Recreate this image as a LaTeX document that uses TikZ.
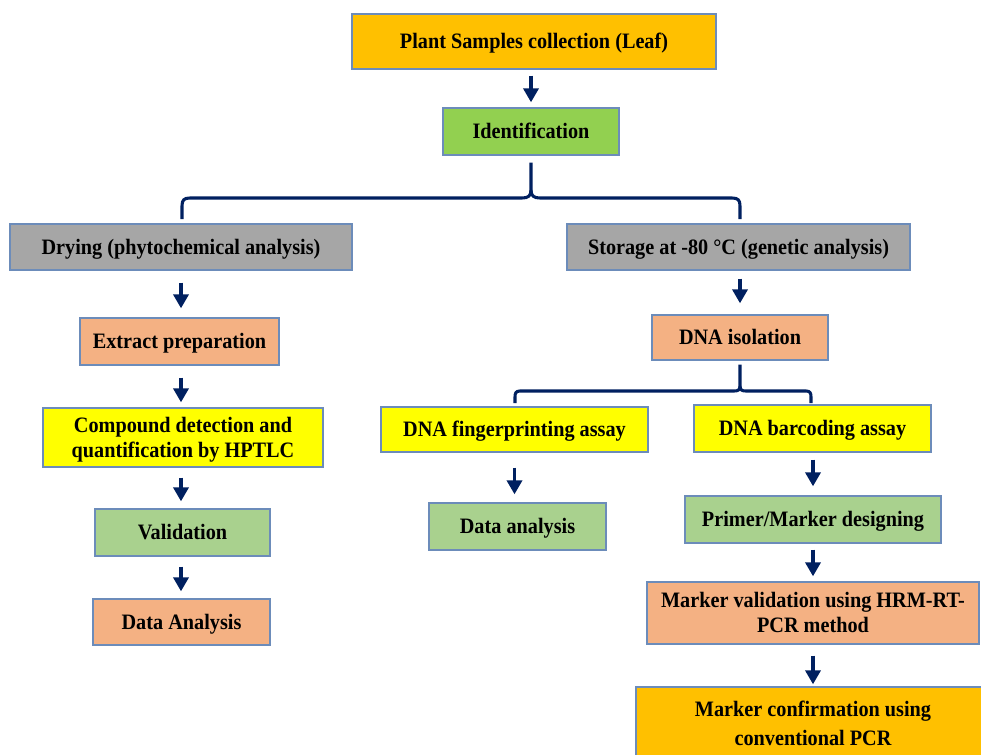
\documentclass[tikz,border=0pt]{standalone}
\usepackage{fontspec}
\setmainfont[FakeStretch=0.92]{Liberation Serif}
\usetikzlibrary{arrows.meta}
\definecolor{cOrange}{HTML}{FFC000}
\definecolor{cGreen}{HTML}{92D050}
\definecolor{cGray}{HTML}{A6A6A6}
\definecolor{cSalmon}{HTML}{F4B183}
\definecolor{cYellow}{HTML}{FFFF00}
\definecolor{cLGreen}{HTML}{A9D18E}
\definecolor{boxline}{RGB}{108,140,186}
\definecolor{navy}{RGB}{0,32,96}
\newcommand{\twolines}[2]{\begin{tabular}[b]{@{}c@{}}#1\\#2\end{tabular}}
\begin{document}
\begin{tikzpicture}[x=0.75pt,y=-0.75pt,
  box/.style={draw=boxline, line width=1pt, inner sep=0pt, align=center, text=black,
    font=\bfseries\fontsize{16.5}{18.75}\selectfont, text height=10.9pt, text depth=0pt},
  twoline/.style={text height=29.65pt},
  arr/.style={draw=navy, line width=2.6pt, -{Triangle[width=11.25pt,length=10.5pt]}},
  brace/.style={draw=navy, line width=2.3pt, line join=round}]
\useasboundingbox (0,0) rectangle (981,754);
\fill[white] (0,0) rectangle (981,754);
% nodes
\node[box, fill=cOrange, minimum width=273pt, minimum height=41.25pt] (plant) at (534,41.5) {Plant Samples collection (Leaf)};
\node[box, fill=cGreen, minimum width=132pt, minimum height=35.25pt] (ident) at (531,131.5) {Identification};
\node[box, fill=cGray, minimum width=256.5pt, minimum height=34.5pt] (drying) at (181,247) {Drying (phytochemical analysis)};
\node[box, fill=cGray, minimum width=257.25pt, minimum height=34.5pt] (storage) at (738.5,247) {Storage at -80 °C (genetic analysis)};
\node[box, fill=cSalmon, minimum width=149.25pt, minimum height=35.25pt] (extract) at (179.5,341.5) {Extract preparation};
\node[box, twoline, fill=cYellow, minimum width=210pt, minimum height=44.25pt] (compound) at (183,437.5) {\twolines{Compound detection and}{quantification by HPTLC}};
\node[box, fill=cLGreen, minimum width=131.25pt, minimum height=35.25pt] (valid) at (182.5,532.5) {Validation};
\node[box, fill=cSalmon, minimum width=132.75pt, minimum height=34.5pt] (dataA) at (181.5,622) {Data Analysis};
\node[box, fill=cSalmon, minimum width=132pt, minimum height=33.75pt] (dnaiso) at (740,337.5) {DNA isolation};
\node[box, fill=cYellow, minimum width=200.25pt, minimum height=33.75pt] (finger) at (514.5,429.5) {DNA fingerprinting assay};
\node[box, fill=cYellow, minimum width=177.75pt, minimum height=35.25pt] (barcode) at (812.5,428.5) {DNA barcoding assay};
\node[box, fill=cLGreen, minimum width=132.75pt, minimum height=35.25pt] (dataa) at (517.5,526.5) {Data analysis};
\node[box, fill=cLGreen, minimum width=192pt, minimum height=35.25pt] (primer) at (813,519.5) {Primer/Marker designing};
\node[box, twoline, fill=cSalmon, minimum width=249pt, minimum height=46.5pt] (markerv) at (813,613) {\twolines{Marker validation using HRM-RT-}{PCR method}};
\begin{scope}
\clip (0,0) rectangle (981,754);
\node[box, fill=cOrange, minimum width=265.5pt, minimum height=54.75pt,
  font=\bfseries\fontsize{16.5}{22}\selectfont, text height=32.9pt] (markerc) at (813,723.5) {\twolines{Marker confirmation using}{conventional PCR}};
\end{scope}
% arrows
\draw[arr, shorten <=4.5pt, shorten >=3.75pt] (plant.south -| ident.north) -- (ident.north);
\draw[arr, shorten <=9pt, shorten >=6.75pt] (drying.south) -- (drying.south |- extract.north);
\draw[arr, shorten <=9pt, shorten >=3.75pt] (drying.south |- extract.south) -- (drying.south |- compound.north);
\draw[arr, shorten <=7.5pt, shorten >=5.25pt] (drying.south |- compound.south) -- (drying.south |- valid.north);
\draw[arr, shorten <=7.5pt, shorten >=5.25pt] (drying.south |- valid.south) -- (drying.south |- dataA.north);
\draw[arr, shorten <=6pt, shorten >=8.25pt] (dnaiso.north |- storage.south) -- (dnaiso.north);
\draw[arr, shorten <=11.25pt, shorten >=6pt] (finger.south) -- (finger.south |- dataa.north);
\draw[arr, shorten <=5.25pt, shorten >=6.75pt] (primer.north |- barcode.south) -- (primer.north);
\draw[arr, shorten <=4.5pt, shorten >=3.75pt] (primer.south) -- (markerv.north);
\draw[arr, shorten <=8.25pt, shorten >=1.5pt] (markerv.south) -- (markerc.north);
% braces
\coordinate (tL) at (182,219);
\coordinate (tR) at (740,219);
\coordinate (sL) at (515,403);
\coordinate (sR) at (811,403);
\draw[brace] (tL) -- (182,206) .. controls (182,200) and (184,198) .. (190,198) -- (522,198)
  .. controls (528,198) and (531,196) .. (531,190) -- ([yshift=-5.25pt]ident.south);
\draw[brace] (tR) -- (740,206) .. controls (740,200) and (738,198) .. (732,198) -- (540,198)
  .. controls (534,198) and (531,196) .. (531,190);
\draw[brace] (sL) -- (515,397) .. controls (515,393) and (516,391) .. (520,391) -- (734,391)
  .. controls (738,391) and (740,390) .. (740,386) -- ([yshift=-3pt]dnaiso.south);
\draw[brace] (sR) -- (811,397) .. controls (811,393) and (810,391) .. (806,391) -- (746,391)
  .. controls (742,391) and (740,390) .. (740,386);
\end{tikzpicture}
\end{document}
